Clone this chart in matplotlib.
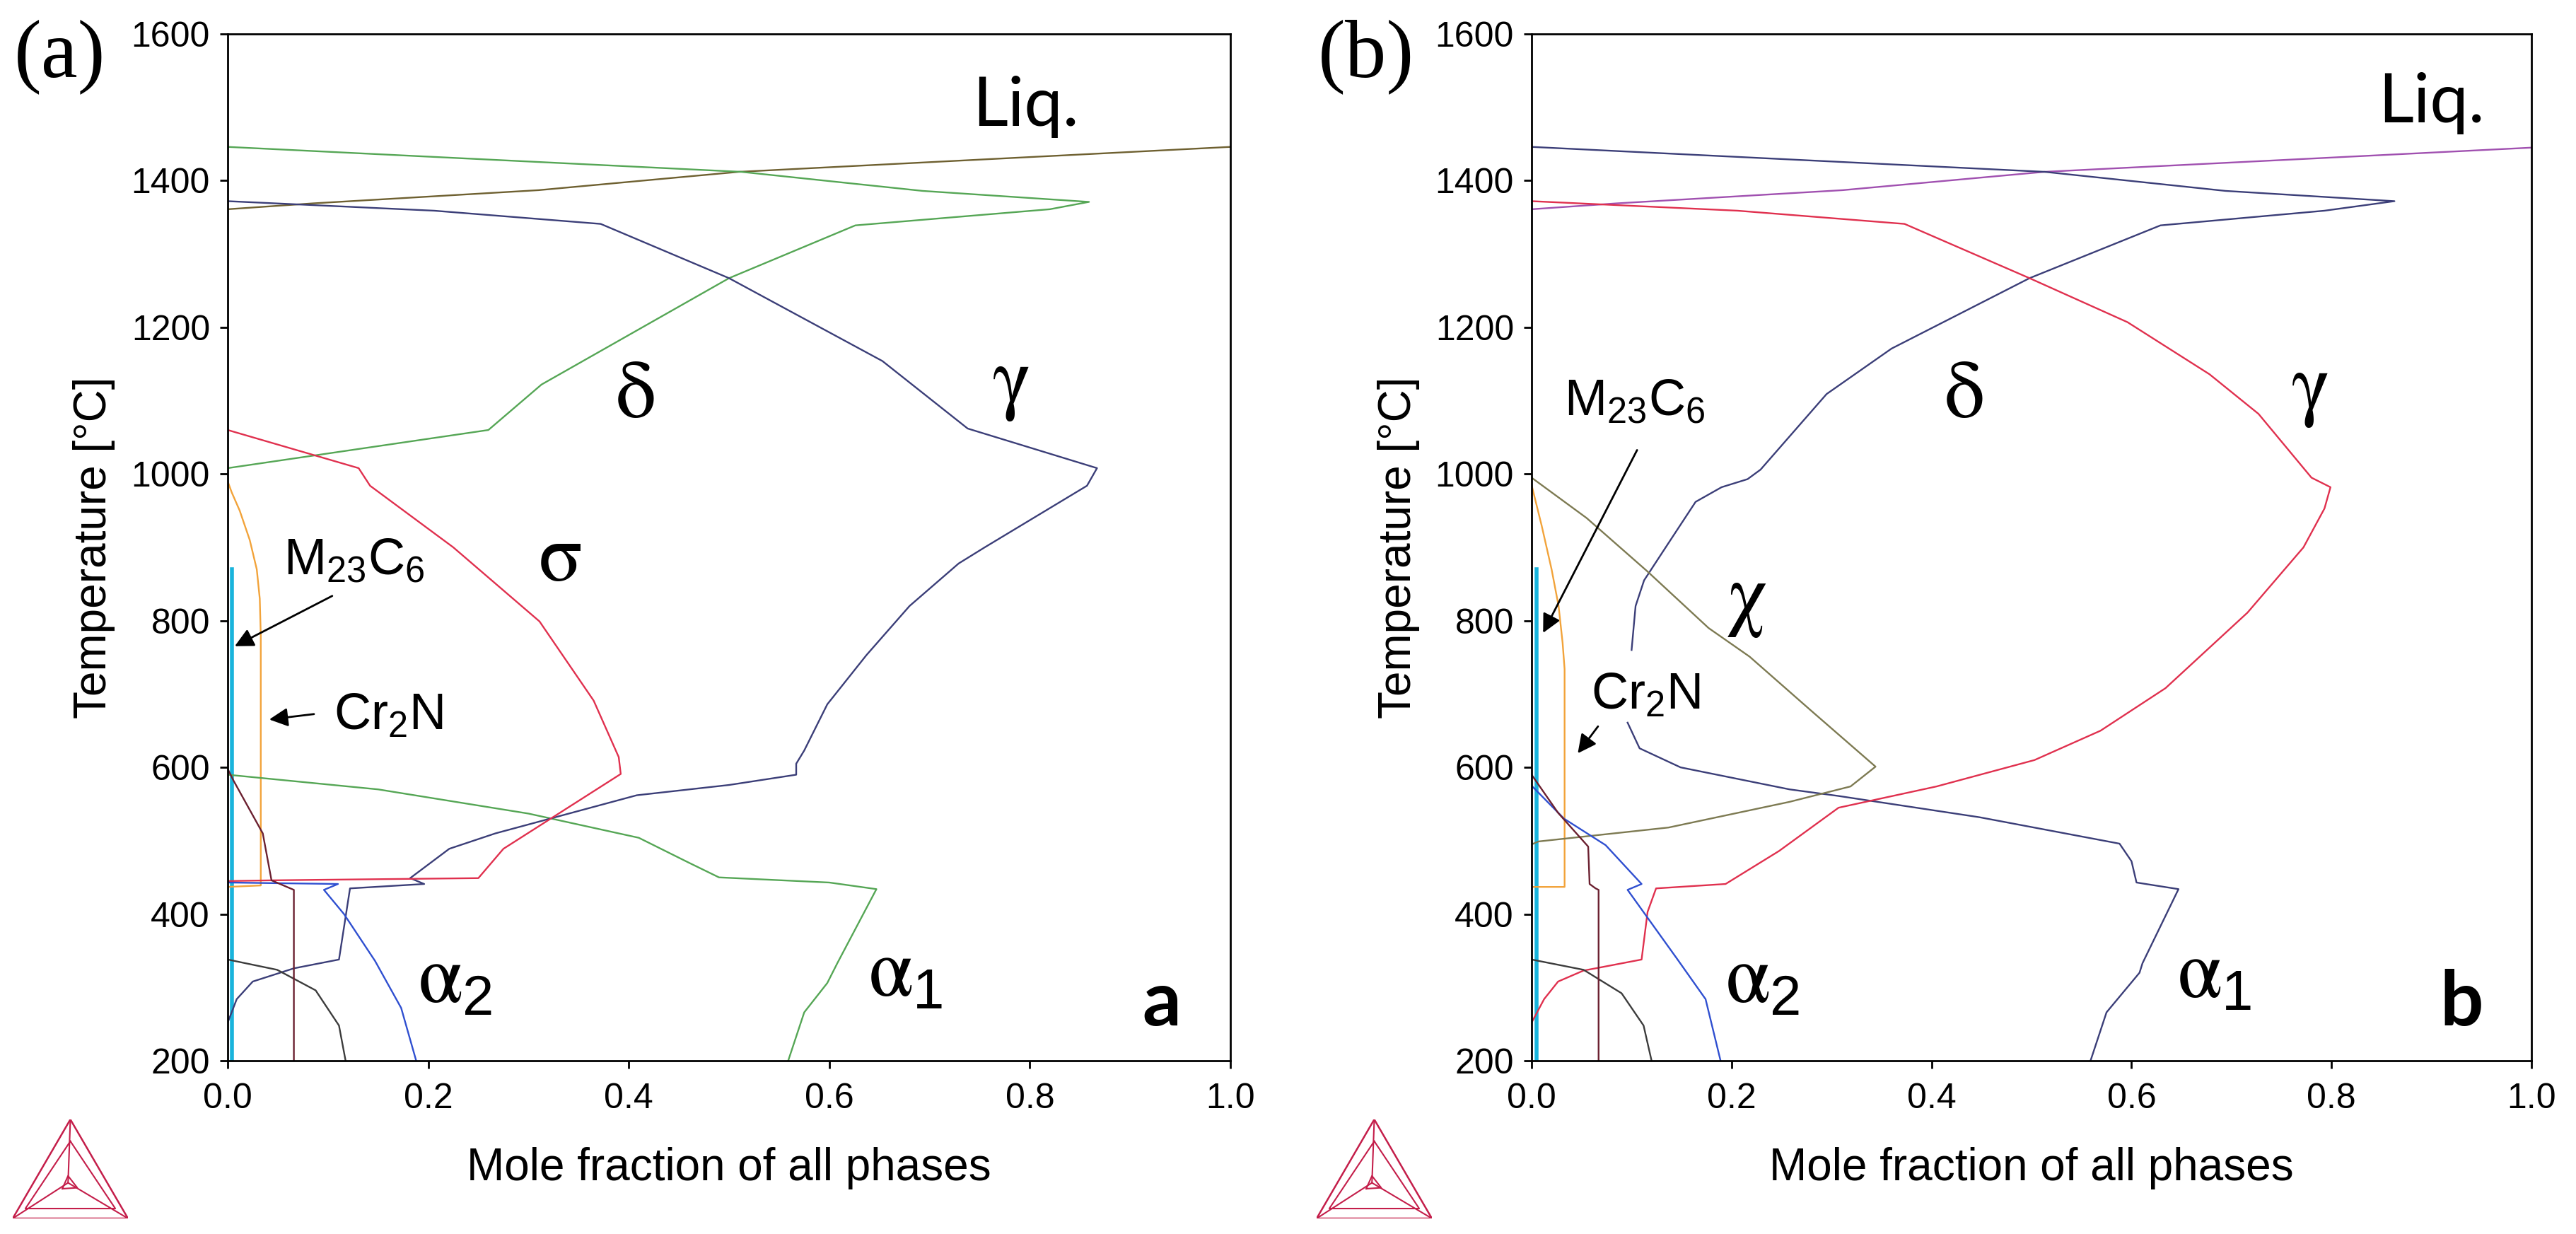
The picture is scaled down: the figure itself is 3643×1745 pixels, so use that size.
import matplotlib.pyplot as plt
from matplotlib.ticker import FormatStrFormatter

plt.rcParams['font.family'] = ['Liberation Sans', 'DejaVu Sans']
plt.rcParams['mathtext.fontset'] = 'custom'
plt.rcParams['mathtext.default'] = 'regular'

W, H = 3643, 1745

# ---------------- panel (a) ----------------
liq_a_x = [0.0, 0.085, 0.31, 0.51, 1.0]
liq_a_t = [1361, 1369, 1387, 1412, 1446]

delta_a_x = [0.0, 0.512, 0.693, 0.859, 0.82, 0.626, 0.5, 0.313, 0.26, 0.0]
delta_a_t = [1446, 1412, 1386, 1371, 1361, 1339, 1267, 1122, 1060, 1008]

alpha1_a_x = [0.0, 0.15, 0.3, 0.41, 0.46, 0.49, 0.6, 0.647, 0.608, 0.598, 0.575, 0.559]
alpha1_a_t = [590, 570, 537, 504, 470, 450, 443, 434, 333, 306, 266, 200]

gamma_a_x = [0.0, 0.206, 0.372, 0.5, 0.653, 0.738, 0.867, 0.857, 0.755, 0.729, 0.68, 0.637,
             0.598, 0.575, 0.567, 0.567, 0.5, 0.408, 0.267, 0.221, 0.182, 0.196, 0.122,
             0.111, 0.066, 0.025, 0.009, 0.0]
gamma_a_t = [1372, 1359, 1341, 1267, 1154, 1062, 1008, 984, 900, 878, 820, 753,
             686, 623, 605, 590, 576, 562, 510, 489, 449, 441, 435,
             338, 326, 308, 284, 252]

sigma_a_x = [0.0, 0.1306, 0.142, 0.225, 0.311, 0.365, 0.39, 0.392, 0.275, 0.25, 0.044, 0.0]
sigma_a_t = [1060, 1008, 984, 900, 799, 691, 614, 591, 489, 449, 446, 445]

alpha2_a_x = [0.0, 0.11, 0.096, 0.116, 0.147, 0.173, 0.188]
alpha2_a_t = [443, 441, 433, 400, 336, 272, 200]

arc_a_x = [0.0, 0.0493, 0.0877, 0.111, 0.1176]
arc_a_t = [338, 324, 296, 248, 200]

dark_a_x = [0.0, 0.0058, 0.035, 0.0437, 0.0625, 0.066, 0.066]
dark_a_t = [598, 582, 510, 446, 435, 433, 200]

cr2n_a_x = [0.0, 0.004, 0.012, 0.022, 0.029, 0.032, 0.033, 0.033, 0.0]
cr2n_a_t = [990, 975, 950, 910, 870, 830, 780, 439, 437]

m23_a_x = [0.004, 0.004]
m23_a_t = [870, 200]

# ---------------- panel (b) ----------------
liq_b_x = [0.0, 0.085, 0.311, 0.513, 1.0]
liq_b_t = [1361, 1369, 1387, 1412, 1445]

delta_b_hi_x = [0.0, 0.513, 0.694, 0.863, 0.793, 0.629, 0.498, 0.36, 0.295, 0.229, 0.216,
                0.19, 0.164, 0.137, 0.1125, 0.104, 0.1]
delta_b_hi_t = [1446, 1412, 1386, 1372, 1359, 1339, 1267, 1171, 1109, 1006, 993,
                982, 962, 906, 855, 820, 760]
delta_b_lo_x = [0.096, 0.108, 0.149, 0.258, 0.307, 0.448, 0.588, 0.6, 0.605, 0.647,
                0.611, 0.608, 0.575, 0.559]
delta_b_lo_t = [661, 626, 600, 570, 561, 532, 496, 472, 443, 434,
                333, 320, 266, 200]

gamma_b_x = [0.0, 0.206, 0.373, 0.498, 0.596, 0.678, 0.727, 0.78, 0.799, 0.793, 0.772,
             0.716, 0.634, 0.569, 0.503, 0.405, 0.307, 0.2475, 0.194, 0.1245, 0.116,
             0.11, 0.064, 0.052, 0.0265, 0.0125, 0.0]
gamma_b_t = [1372, 1359, 1341, 1267, 1207, 1136, 1082, 995, 982, 953, 900,
             811, 708, 650, 610, 574, 545, 486, 441, 435, 403,
             338, 326, 323, 308, 284, 252]

chi_b_x = [0.0, 0.055, 0.116, 0.177, 0.218, 0.279, 0.344, 0.319, 0.258, 0.137, 0.007, 0.0]
chi_b_t = [995, 940, 867, 790, 751, 678, 601, 574, 553, 518, 499, 495]

alpha2_b_x = [0.0, 0.0325, 0.074, 0.11, 0.096, 0.146, 0.174, 0.189]
alpha2_b_t = [575, 530, 494, 441, 433, 338, 284, 200]

arc_b_x = [0.0, 0.052, 0.09, 0.112, 0.12]
arc_b_t = [338, 324, 292, 248, 200]

dark_b_x = [0.0, 0.0265, 0.0566, 0.058, 0.064, 0.067, 0.067]
dark_b_t = [590, 538, 492, 441, 435, 433, 200]

cr2n_b_x = [0.0, 0.01, 0.02, 0.027, 0.031, 0.033, 0.033, 0.0]
cr2n_b_t = [985, 930, 870, 820, 770, 734, 437, 437]

m23_b_x = [0.005, 0.005]
m23_b_t = [870, 200]

x_ticks = [0.0, 0.2, 0.4, 0.6, 0.8, 1.0]
t_ticks = [200, 400, 600, 800, 1000, 1200, 1400, 1600]

GREEN = '#55a655'
NAVY = '#3b3e78'
RED = '#e0304e'
ORANGE = '#f2a33a'
CYAN = '#19b4dc'
OLIVE = '#6e6030'
BLUE = '#2f4fd0'
GREY = '#3c3c3c'
MAROON = '#6b2030'
CHI = '#7d7a52'
PURPLE = '#a050b0'
LW = 1.7

fig = plt.figure(figsize=(W / 100, H / 100), dpi=100)
ax_a = fig.add_axes([322 / W, 245 / H, 1418 / W, 1452 / H])
ax_b = fig.add_axes([2166 / W, 245 / H, 1414 / W, 1452 / H])


def style_axes(ax):
    ax.set_xlim(0, 1)
    ax.set_ylim(200, 1600)
    ax.set_xticks(x_ticks)
    ax.set_yticks(t_ticks)
    ax.xaxis.set_major_formatter(FormatStrFormatter('%.1f'))
    ax.tick_params(direction='out', length=8, width=2, labelsize=36,
                   top=False, right=False)
    ax.tick_params(axis='x', pad=14)
    ax.tick_params(axis='y', pad=10)
    for s in ax.spines.values():
        s.set_linewidth(2)
    ax.set_xlabel('Mole fraction of all phases', fontsize=46)
    ax.set_ylabel('Temperature [°C]', fontsize=46)
    ax.xaxis.label.set_va('center')
    ax.yaxis.label.set_va('center')
    ax.xaxis.set_label_coords(0.5, -0.105)
    ax.yaxis.set_label_coords(-0.133, 0.5)


def greek(ax, x, t, s, ha='center'):
    # greek phase names drawn with the STIX serif math font, upright
    ax.text(x, t, s, fontsize=82, math_fontfamily='stix',
            ha=ha, va='baseline', zorder=5)


def logo(x0):
    lg = fig.add_axes([x0 / W, 22 / H, 163 / W, 140 / H])
    lg.set_xlim(0, 1)
    lg.set_ylim(0, 1)
    lg.axis('off')
    c = '#c41e4a'
    lg.plot([0.5, 0.0, 1.0, 0.5], [1.0, 0.0, 0.0, 1.0], color=c, lw=1.8)
    lg.plot([0.5, 0.11, 0.89, 0.5], [0.78, 0.1, 0.1, 0.78], color=c, lw=1.5)
    lg.plot([0.5, 0.48], [1.0, 0.36], color=c, lw=1.5)
    lg.plot([0.0, 0.48], [0.0, 0.36], color=c, lw=1.5)
    lg.plot([1.0, 0.48], [0.0, 0.36], color=c, lw=1.5)
    lg.plot([0.43, 0.56, 0.48, 0.43], [0.30, 0.31, 0.43, 0.30], color=c, lw=1.5)


# ---- draw (a)
ax = ax_a
ax.plot(m23_a_x, m23_a_t, color=CYAN, lw=4)
ax.plot(cr2n_a_x, cr2n_a_t, color=ORANGE, lw=LW)
ax.plot(liq_a_x, liq_a_t, color=OLIVE, lw=LW)
ax.plot(delta_a_x, delta_a_t, color=GREEN, lw=LW)
ax.plot(alpha1_a_x, alpha1_a_t, color=GREEN, lw=LW)
ax.plot(gamma_a_x, gamma_a_t, color=NAVY, lw=LW)
ax.plot(sigma_a_x, sigma_a_t, color=RED, lw=LW)
ax.plot(alpha2_a_x, alpha2_a_t, color=BLUE, lw=LW)
ax.plot(arc_a_x, arc_a_t, color=GREY, lw=LW)
ax.plot(dark_a_x, dark_a_t, color=MAROON, lw=LW)
style_axes(ax)

greek(ax, 0.4057, 1077, r'$\mathrm{\delta}$')
greek(ax, 0.781, 1096, r'$\mathrm{\gamma}$')
greek(ax, 0.331, 855, r'$\mathrm{\sigma}$')
greek(ax, 0.19, 280, r'$\mathrm{\alpha}_2$', ha='left')
greek(ax, 0.639, 289, r'$\mathrm{\alpha}_1$', ha='left')
ax.text(0.743, 1475, 'Liq.', fontsize=70, family=['Lato', 'DejaVu Sans'],
        ha='left', va='baseline')
ax.text(0.9316, 248, 'a', fontsize=78, family=['Lato', 'DejaVu Sans'],
        fontweight='bold', ha='center', va='baseline')
ax.text(0.0557, 863, 'M$_{23}$C$_6$', fontsize=52, ha='left', va='baseline')
ax.text(0.106, 652, 'Cr$_2$N', fontsize=52, ha='left', va='baseline')
ax.annotate('', xy=(0.0053, 764), xytext=(0.106, 835),
            arrowprops=dict(arrowstyle='-|>', color='black', lw=2, mutation_scale=40))
ax.annotate('', xy=(0.0395, 665), xytext=(0.088, 673),
            arrowprops=dict(arrowstyle='-|>', color='black', lw=2, mutation_scale=40))

# ---- draw (b)
ax = ax_b
ax.plot(m23_b_x, m23_b_t, color=CYAN, lw=4)
ax.plot(cr2n_b_x, cr2n_b_t, color=ORANGE, lw=LW)
ax.plot(liq_b_x, liq_b_t, color=PURPLE, lw=LW)
ax.plot(delta_b_hi_x, delta_b_hi_t, color=NAVY, lw=LW)
ax.plot(delta_b_lo_x, delta_b_lo_t, color=NAVY, lw=LW)
ax.plot(gamma_b_x, gamma_b_t, color=RED, lw=LW)
ax.plot(chi_b_x, chi_b_t, color=CHI, lw=LW)
ax.plot(alpha2_b_x, alpha2_b_t, color=BLUE, lw=LW)
ax.plot(arc_b_x, arc_b_t, color=GREY, lw=LW)
ax.plot(dark_b_x, dark_b_t, color=MAROON, lw=LW)
style_axes(ax)

greek(ax, 0.432, 1077, r'$\mathrm{\delta}$')
greek(ax, 0.778, 1087, r'$\mathrm{\gamma}$')
greek(ax, 0.215, 801, r'$\mathrm{\chi}$')
greek(ax, 0.194, 280, r'$\mathrm{\alpha}_2$', ha='left')
greek(ax, 0.6457, 287, r'$\mathrm{\alpha}_1$', ha='left')
ax.text(0.8465, 1479, 'Liq.', fontsize=70, family=['Lato', 'DejaVu Sans'],
        ha='left', va='baseline')
ax.text(0.93, 248, 'b', fontsize=78, family=['Lato', 'DejaVu Sans'],
        fontweight='bold', ha='center', va='baseline')
ax.text(0.0325, 1080, 'M$_{23}$C$_6$', fontsize=52, ha='left', va='baseline')
ax.text(0.0594, 680, 'Cr$_2$N', fontsize=52, ha='left', va='baseline')
ax.annotate('', xy=(0.0106, 781), xytext=(0.1064, 1035),
            arrowprops=dict(arrowstyle='-|>', color='black', lw=2, mutation_scale=40))
ax.annotate('', xy=(0.045, 617), xytext=(0.0676, 658),
            arrowprops=dict(arrowstyle='-|>', color='black', lw=2, mutation_scale=40))

# panel letters
fig.text(20 / W, 1 - 80 / H, '(a)', fontsize=84, family=['Liberation Serif', 'DejaVu Serif'],
         ha='left', va='center')
fig.text(1864 / W, 1 - 80 / H, '(b)', fontsize=84, family=['Liberation Serif', 'DejaVu Serif'],
         ha='left', va='center')

logo(18)
logo(1862)

fig.savefig('out.png', dpi=100)
